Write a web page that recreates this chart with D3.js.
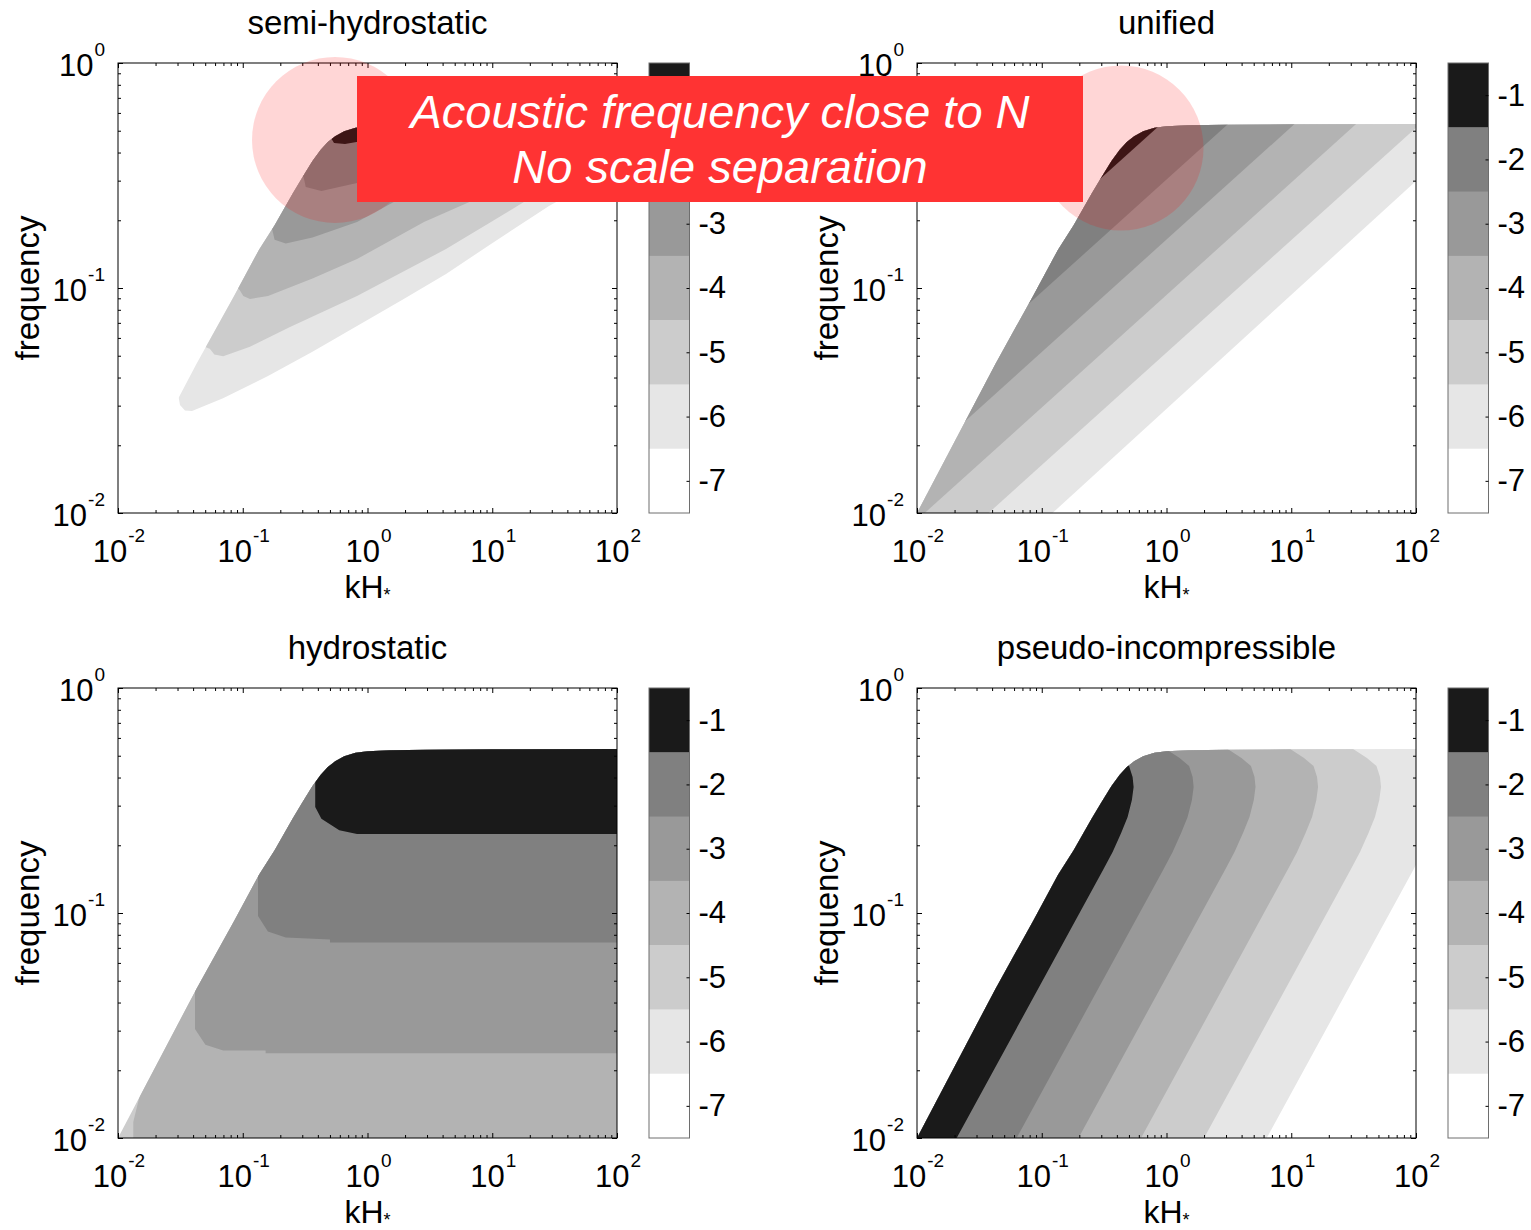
<!DOCTYPE html>
<html>
<head>
<meta charset="utf-8">
<script src="https://cdn.jsdelivr.net/npm/d3@7"></script>
<style>
  body { margin: 0; background: #fff; }
  text { font-family: "Liberation Sans", Arial, Helvetica, sans-serif; fill: #000; }
</style>
</head>
<body>
<svg id="fig" width="1531" height="1230"></svg>
<script>
// ---- contour levels and their gray shades ----
const levels = [-1, -2, -3, -4, -5, -6, -7];
const levelColors = ["#1a1a1a", "#808080", "#999999", "#b3b3b3", "#cccccc", "#e6e6e6", "#ffffff"];

// ---- axis ticks ----
const xDecades = [0.01, 0.1, 1, 10, 100];
const xDecadeExp = ["-2", "-1", "0", "1", "2"];
const yDecades = [0.01, 0.1, 1];
const yDecadeExp = ["-2", "-1", "0"];

// ---- upper edge of the admissible (kH*, frequency) domain ----
const envelope = [
  [0.01, 0.01], [0.0425, 0.046], [0.085, 0.092], [0.135, 0.148], [0.18, 0.19],
  [0.25, 0.262], [0.30, 0.31], [0.362, 0.367], [0.42, 0.41], [0.48, 0.445],
  [0.55, 0.472], [0.65, 0.497], [0.8, 0.515], [1.0, 0.524], [1.5, 0.529],
  [3, 0.532], [10, 0.534], [100, 0.535]
];

// ---- contour lines (kH*, frequency); each bounds the region at or above its level ----
const semiHydroContours = [
  { level: -6, pts: [[0.0238, 0.0331], [0.0306, 0.0328], [0.0314, 0.0302], [0.0344, 0.02855], [0.0392, 0.0284], [0.0695, 0.0324], [0.1594, 0.0406], [0.359, 0.0519], [0.824, 0.0678], [1.891, 0.0885], [4.26, 0.1154], [9.77, 0.1569], [28.5, 0.2314], [183.8, 0.4107]] },
  { level: -5, pts: [[0.0454, 0.0558], [0.0544, 0.0537], [0.0592, 0.0506], [0.0697, 0.0497], [0.1143, 0.0548], [0.2392, 0.0671], [0.824, 0.0921], [4.26, 0.149], [9.77, 0.1965], [22.3, 0.2596], [183.8, 0.504]] },
  { level: -4, pts: [[0.082, 0.1052], [0.0945, 0.098], [0.101, 0.0921], [0.1143, 0.0894], [0.1594, 0.0921], [0.3623, 0.1101], [0.824, 0.1345], [2.837, 0.1965], [6.49, 0.2404], [183.8, 0.685]] },
  { level: -3, pts: [[0.1508, 0.1965], [0.1725, 0.1814], [0.18, 0.164], [0.221, 0.1577], [0.3623, 0.1675], [0.824, 0.1965], [1.598, 0.2397], [183.8, 1.031]] },
  { level: -2, pts: [[0.2773, 0.3346], [0.3075, 0.3105], [0.32, 0.2811], [0.427, 0.2701], [0.824, 0.2929], [2.636, 0.352], [183.8, 0.685]] },
  { level: -1, pts: [[0.4648, 0.4935], [0.51, 0.4642], [0.539, 0.441], [0.66, 0.4365], [0.839, 0.4468], [2.636, 0.53], [183.8, 0.685]] }
];

const unifiedContours = [
  { level: -6, pts: [[0.122, 0.01], [100, 0.299]] },
  { level: -5, pts: [[0.0375, 0.01], [100, 0.516]] },
  { level: -4, pts: [[0.01153, 0.01], [100, 0.931]] },
  { level: -3, pts: [[0.01, 0.0164], [30, 0.90]] },
  { level: -2, pts: [[0.01, 0.0303], [10, 0.96]] },
  { level: -1, pts: [[0.1, 0.178], [2, 0.796]] }
];

const hydroContours = [
  { level: -5, pts: [[0.005, 0.005], [150, 0.005]] },
  { level: -4, pts: [[0.019, 0.03], [0.01529, 0.0163], [0.01327, 0.0118], [0.01327, 0.008], [150, 0.008]] },
  { level: -3, pts: [[0.0414, 0.2], [0.0414, 0.0305], [0.0502, 0.026], [0.0697, 0.0245], [0.1525, 0.0245], [0.1525, 0.0238], [150, 0.0238]] },
  { level: -2, pts: [[0.1325, 0.3], [0.1325, 0.097], [0.159, 0.0827], [0.221, 0.0778], [0.5, 0.0763], [0.5, 0.0739], [150, 0.0739]] },
  { level: -1, pts: [[0.375, 0.6], [0.381, 0.376], [0.381, 0.296], [0.427, 0.2625], [0.594, 0.233], [0.824, 0.2244], [150, 0.2244]] }
];

const pseudoContours = [
  { level: -6, pts: [[6.36, 0.01], [96.0, 0.157], [113.4, 0.1867], [132.6, 0.2267], [149.5, 0.267], [161.8, 0.318], [167, 0.363], [164.0, 0.402], [153.6, 0.45], [128.9, 0.4885], [89.2, 0.558]] },
  { level: -5, pts: [[2.00, 0.01], [30.13, 0.157], [35.58, 0.1867], [41.61, 0.2267], [46.90, 0.267], [50.78, 0.318], [52.4, 0.363], [51.46, 0.402], [48.21, 0.45], [40.45, 0.4885], [27.98, 0.558]] },
  { level: -4, pts: [[0.625, 0.01], [9.43, 0.157], [11.14, 0.1867], [13.02, 0.2267], [14.68, 0.267], [15.89, 0.318], [16.4, 0.363], [16.10, 0.402], [15.09, 0.45], [12.66, 0.4885], [8.758, 0.558]] },
  { level: -3, pts: [[0.197, 0.01], [2.973, 0.157], [3.510, 0.1867], [4.105, 0.2267], [4.627, 0.267], [5.010, 0.318], [5.17, 0.363], [5.077, 0.402], [4.756, 0.45], [3.991, 0.4885], [2.761, 0.558]] },
  { level: -2, pts: [[0.0629, 0.01], [0.949, 0.157], [1.120, 0.1867], [1.310, 0.2267], [1.477, 0.267], [1.599, 0.318], [1.65, 0.363], [1.620, 0.402], [1.518, 0.45], [1.274, 0.4885], [0.881, 0.558]] },
  { level: -1, pts: [[0.0208, 0.01], [0.313, 0.157], [0.370, 0.1867], [0.433, 0.2267], [0.488, 0.267], [0.528, 0.318], [0.545, 0.363], [0.535, 0.402], [0.501, 0.45], [0.421, 0.4885], [0.291, 0.558]] }
];

// highlighted spots (kH*, frequency) near the buoyancy frequency
const highlights = [
  { panel: 0, k: 0.549, f: 0.455, r: 83 },
  { panel: 1, k: 0.432, f: 0.419, r: 82.5 }
];
const noteLines = ["Acoustic frequency close to N", "No scale separation"];

// ---- layout ----
const svg = d3.select("#fig");
const PW = 499, PH = 450, CBX = 32, CBW = 40.5;
const NOTE = { x: 357, y: 76, w: 726, h: 126 };
const panels = [
  { title: "semi-hydrostatic", ox: 118, oy: 63, contours: semiHydroContours, side: "left" },
  { title: "unified", ox: 917, oy: 63, contours: unifiedContours, side: "left" },
  { title: "hydrostatic", ox: 118, oy: 688, contours: hydroContours, side: "right" },
  { title: "pseudo-incompressible", ox: 917, oy: 688, contours: pseudoContours, side: "left" }
];
const colorOf = d3.scaleOrdinal().domain(levels).range(levelColors);
const defs = svg.append("defs");
const underNote = (px, py) => px >= NOTE.x && px <= NOTE.x + NOTE.w && py >= NOTE.y && py <= NOTE.y + NOTE.h;

function superscriptLabel(g, x, y, exp, anchor) {
  const t = g.append("text").attr("x", x).attr("y", y)
    .attr("text-anchor", anchor).attr("font-size", 31);
  t.append("tspan").text("10");
  t.append("tspan").attr("dx", 1).attr("dy", -20).attr("font-size", 19).text(exp);
  return t;
}

const scales = [];
panels.forEach((p, i) => {
  const x = d3.scaleLog().domain([0.01, 100]).range([p.ox, p.ox + PW]);
  const y = d3.scaleLog().domain([0.01, 1]).range([p.oy + PH, p.oy]);
  scales.push({ x, y });
  const g = svg.append("g");

  defs.append("clipPath").attr("id", "plot" + i)
    .append("rect").attr("x", p.ox).attr("y", p.oy).attr("width", PW).attr("height", PH);
  const envPoly = envelope.concat([[100, 0.01]]);
  defs.append("clipPath").attr("id", "env" + i)
    .append("path").attr("d", d3.line().x(d => x(d[0])).y(d => y(d[1]))(envPoly) + "Z");

  const line = d3.line().x(d => x(d[0])).y(d => y(d[1]));
  const fills = g.append("g").attr("clip-path", `url(#plot${i})`)
    .append("g").attr("clip-path", `url(#env${i})`);
  const sorted = p.contours.slice().sort((a, b) => a.level - b.level);
  sorted.forEach(c => {
    const first = c.pts[0], last = c.pts[c.pts.length - 1];
    const ring = p.side === "left"
      ? c.pts.concat([[last[0], 3], [0.001, 3], [0.001, first[1]]])
      : c.pts.concat([[last[0], 3], [first[0], 3]]);
    fills.append("path").attr("d", line(ring) + "Z")
      .attr("fill", colorOf(c.level)).attr("stroke", "none");
  });

  // axes: inward ticks on all four sides
  const minor = x.ticks().filter(v => !xDecades.includes(v));
  const minorY = y.ticks().filter(v => !yDecades.includes(v));
  const axG = g.append("g").attr("class", "axes");
  const mk = (sel, axis) => { sel.call(axis); sel.select(".domain").remove(); sel.selectAll("text").remove(); sel.selectAll("line").attr("stroke", "#000"); };
  mk(axG.append("g").attr("transform", `translate(0,${p.oy + PH})`), d3.axisBottom(x).tickValues(xDecades).tickSize(-5));
  mk(axG.append("g").attr("transform", `translate(0,${p.oy + PH})`), d3.axisBottom(x).tickValues(minor).tickSize(-3));
  mk(axG.append("g").attr("transform", `translate(0,${p.oy})`), d3.axisTop(x).tickValues(xDecades).tickSize(-5));
  mk(axG.append("g").attr("transform", `translate(0,${p.oy})`), d3.axisTop(x).tickValues(minor).tickSize(-3));
  mk(axG.append("g").attr("transform", `translate(${p.ox},0)`), d3.axisLeft(y).tickValues(yDecades).tickSize(-5));
  mk(axG.append("g").attr("transform", `translate(${p.ox},0)`), d3.axisLeft(y).tickValues(minorY).tickSize(-3));
  mk(axG.append("g").attr("transform", `translate(${p.ox + PW},0)`), d3.axisRight(y).tickValues(yDecades).tickSize(-5));
  mk(axG.append("g").attr("transform", `translate(${p.ox + PW},0)`), d3.axisRight(y).tickValues(minorY).tickSize(-3));
  g.append("rect").attr("x", p.ox).attr("y", p.oy).attr("width", PW).attr("height", PH)
    .attr("fill", "none").attr("stroke", "#000").attr("stroke-width", 1);

  // tick labels
  xDecades.forEach((v, j) => superscriptLabel(g, x(v) + 1, p.oy + PH + 49, xDecadeExp[j], "middle"));
  yDecades.forEach((v, j) => superscriptLabel(g, p.ox - 13, y(v) + 13, yDecadeExp[j], "end"));

  // titles and axis labels
  g.append("text").attr("x", p.ox + PW / 2).attr("y", p.oy - 29).attr("text-anchor", "middle")
    .attr("font-size", 33).text(p.title);
  const xl = g.append("text").attr("x", p.ox + PW / 2).attr("y", p.oy + PH + 85)
    .attr("text-anchor", "middle").attr("font-size", 32);
  xl.append("tspan").text("kH");
  xl.append("tspan").attr("dy", 3).attr("font-size", 18).text("*");
  g.append("text").attr("transform", `translate(${p.ox - 79},${p.oy + PH / 2}) rotate(-90)`)
    .attr("text-anchor", "middle").attr("font-size", 33).text("frequency");

  // colorbar
  const cx = p.ox + PW + CBX;
  const cb = d3.scaleBand().domain(levels).range([p.oy, p.oy + PH]);
  const cbg = g.append("g");
  cbg.selectAll("rect.seg").data(levels).join("rect").attr("class", "seg")
    .attr("x", cx).attr("y", d => cb(d)).attr("width", CBW).attr("height", cb.bandwidth() + 0.5)
    .attr("fill", d => colorOf(d));
  cbg.append("rect").attr("x", cx).attr("y", p.oy).attr("width", CBW).attr("height", PH)
    .attr("fill", "none").attr("stroke", "#6e6e6e").attr("stroke-width", 1);
  const cbPos = d3.scalePoint().domain(levels).range([p.oy + cb.bandwidth() / 2, p.oy + PH - cb.bandwidth() / 2]);
  const cbAxis = cbg.append("g").attr("transform", `translate(${cx + CBW},0)`)
    .call(d3.axisRight(cbPos).tickSize(-3).tickPadding(9));
  cbAxis.select(".domain").remove();
  cbAxis.selectAll("line").attr("stroke", "#000");
  cbAxis.selectAll("text").attr("font-size", 31).attr("fill", "#000")
    .attr("font-family", "Liberation Sans, Arial, sans-serif");
  // labels that sit fully beneath the note box are not drawn
  cbAxis.selectAll(".tick").filter(d => underNote(cx + CBW + 20, cbPos(d))).select("text").remove();
});

// highlight discs and note
const note = svg.append("g");
highlights.forEach(h => {
  const s = scales[h.panel];
  note.append("circle").attr("cx", s.x(h.k)).attr("cy", s.y(h.f)).attr("r", h.r)
    .attr("fill", "rgb(255,0,0)").attr("fill-opacity", 0.16);
});
note.append("rect").attr("x", NOTE.x).attr("y", NOTE.y).attr("width", NOTE.w).attr("height", NOTE.h)
  .attr("fill", "#ff3333");
noteLines.forEach((t, i) => {
  note.append("text").attr("x", NOTE.x + NOTE.w / 2).attr("y", 128 + i * 55).attr("text-anchor", "middle")
    .attr("font-size", 47).attr("font-style", "italic").style("fill", "#fff").text(t);
});
</script>
</body>
</html>
